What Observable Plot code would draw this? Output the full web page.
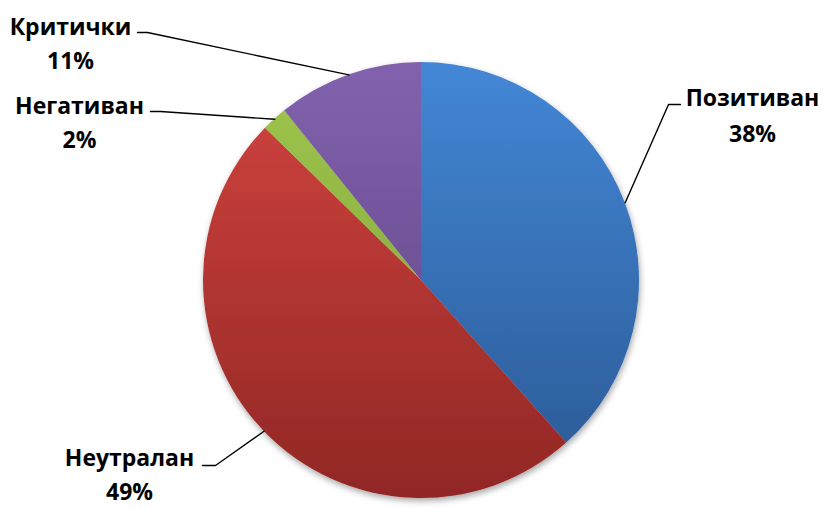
<!DOCTYPE html>
<html>
<head>
<meta charset="utf-8">
<script src="https://cdn.jsdelivr.net/npm/d3@7"></script>
<script src="https://cdn.jsdelivr.net/npm/@observablehq/plot@0.6"></script>
<style>
  html, body { margin: 0; padding: 0; background: #ffffff; }
  #chart svg { display: block; }
</style>
</head>
<body>
<div id="chart"></div>
<script>
// ---- data ----
const categories = ["Позитиван", "Неутралан", "Негативан", "Критички"];
const values = [38.4, 48.9, 1.9, 10.8];
const percentLabels = ["38%", "49%", "2%", "11%"];

// ---- style ----
const colorTop = ["#4387d6", "#d3443f", "#9ec64d", "#8262ae"];
const colorBottom = ["#2a5893", "#912725", "#7f9f36", "#5a3f7e"];

// ---- layout (pixels) ----
const CX = 421, CY = 280, R = 218;
const labelX = [752, 129, 79, 70];
const nameBaseline = [105, 465, 113, 34];
const pctBaseline = [141, 499, 147, 68];
const leaderStart = [[680, 104], [202, 465], [150, 111], [137, 32]];
const leaderElbow = [[668, 104], [215, 465], [160, 111], [147, 32]];

const ux = px => (px - CX) / R;
const uy = py => (CY - py) / R;

const arcs = d3.pie().sort(null).startAngle(0).endAngle(2 * Math.PI)(values);

const slices = categories.map((c, i) => ({
  category: c, value: values[i], pct: percentLabels[i],
  start: arcs[i].startAngle, end: arcs[i].endAngle,
  mid: (arcs[i].startAngle + arcs[i].endAngle) / 2
}));

const leaders = slices.flatMap((s, i) => [
  {category: s.category, x: ux(leaderStart[i][0]), y: uy(leaderStart[i][1])},
  {category: s.category, x: ux(leaderElbow[i][0]), y: uy(leaderElbow[i][1])},
  {category: s.category, x: Math.sin(s.mid), y: Math.cos(s.mid)}
]);

const labelRows = slices.map((s, i) => ({
  name: s.category, pct: s.pct,
  x: ux(labelX[i]), yName: uy(nameBaseline[i]), yPct: uy(pctBaseline[i])
}));

function pieMark(index, scales) {
  const g = d3.create("svg:g");
  const cx = scales.x(0), cy = scales.y(0);
  const r = scales.x(1) - scales.x(0);
  const defs = g.append("defs");
  const f = defs.append("filter").attr("id", "pieShadow")
    .attr("x", "-10%").attr("y", "-10%").attr("width", "120%").attr("height", "120%");
  f.append("feDropShadow").attr("dx", 1).attr("dy", 3)
    .attr("stdDeviation", 3).attr("flood-color", "#000").attr("flood-opacity", 0.35);
  slices.forEach((s, i) => {
    const lg = defs.append("linearGradient").attr("id", "grad" + i)
      .attr("gradientUnits", "userSpaceOnUse")
      .attr("x1", 0).attr("x2", 0).attr("y1", -r).attr("y2", r);
    lg.append("stop").attr("offset", "0%").attr("stop-color", colorTop[i]);
    lg.append("stop").attr("offset", "100%").attr("stop-color", colorBottom[i]);
  });
  const arc = d3.arc().innerRadius(0).outerRadius(r);
  const pg = g.append("g").attr("transform", `translate(${cx},${cy})`)
    .attr("filter", "url(#pieShadow)");
  slices.forEach((s, i) => {
    pg.append("path")
      .attr("d", arc({startAngle: s.start, endAngle: s.end}))
      .attr("fill", `url(#grad${i})`);
  });
  return g.node();
}

const fontFamily = "'Open Sans', 'Noto Sans', sans-serif";

const chart = Plot.plot({
  width: 823,
  height: 509,
  margin: 0,
  style: {background: "#ffffff"},
  x: {type: "linear", domain: [-1, 1], range: [CX - R, CX + R], axis: null},
  y: {type: "linear", domain: [-1, 1], range: [CY + R, CY - R], axis: null},
  marks: [
    pieMark,
    Plot.line(leaders, {x: "x", y: "y", z: "category", stroke: "#000", strokeWidth: 1.4}),
    Plot.text(labelRows, {x: "x", y: "yName", text: "name", lineAnchor: "bottom",
      textAnchor: "middle", fontSize: 23, fontWeight: "bold", fontFamily, fill: "#000"}),
    Plot.text(labelRows, {x: "x", y: "yPct", text: "pct", lineAnchor: "bottom",
      textAnchor: "middle", fontSize: 23, fontWeight: "bold", fontFamily, fill: "#000"})
  ]
});

document.getElementById("chart").appendChild(chart);
</script>
</body>
</html>
